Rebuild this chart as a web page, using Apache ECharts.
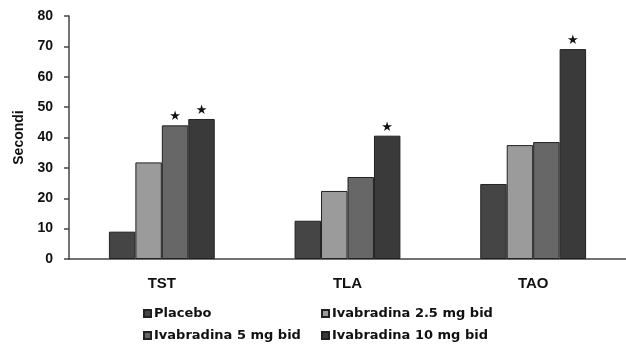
<!DOCTYPE html>
<html>
<head>
<meta charset="utf-8">
<script src="https://cdn.jsdelivr.net/npm/echarts@6/dist/echarts.min.js"></script>
<style>
  html, body { margin: 0; padding: 0; background: #fff; }
  #main { width: 626px; height: 346px; }
</style>
</head>
<body>
<div id="main"></div>
<script>
var categories = ['TST', 'TLA', 'TAO'];
var seriesNames = ['Placebo', 'Ivabradina 2.5 mg bid', 'Ivabradina 5 mg bid', 'Ivabradina 10 mg bid'];
var placebo = [9.0, 12.6, 24.7];
var ivab25 = [31.8, 22.4, 37.5];
var ivab5 = [44.0, 27.0, 38.5];
var ivab10 = [46.1, 40.6, 69.1];
// which bars carry the significance star
var starred = [
  [false, false, false],
  [false, false, false],
  [true, false, false],
  [true, true, true]
];
var colors = ['#454545', '#9b9b9b', '#676767', '#3a3a3a'];

var chart = echarts.init(document.getElementById('main'));

var allValues = [placebo, ivab25, ivab5, ivab10];

function makeSeries(idx) {
  return {
    name: seriesNames[idx],
    type: 'bar',
    barGap: '0%',
    barCategoryGap: '43%',
    itemStyle: { color: colors[idx], borderColor: '#222', borderWidth: 1 },
    emphasis: { disabled: true },
    data: allValues[idx].map(function (v, i) {
      return {
        value: v,
        label: {
          show: starred[idx][i],
          position: 'top',
          distance: 2,
          formatter: '★',
          fontSize: 13,
          color: '#111',
          fontFamily: 'DejaVu Sans'
        }
      };
    })
  };
}

function legendAt(name, left, top) {
  return {
    data: [name],
    left: left,
    top: top,
    icon: 'rect',
    itemWidth: 7,
    itemHeight: 7,
    itemGap: 0,
    padding: 0,
    selectedMode: false,
    textStyle: { fontSize: 13, fontWeight: 'bold', color: '#111', fontFamily: 'DejaVu Sans', padding: [0, 0, 0, -2] }
  };
}

var option = {
  animation: false,
  backgroundColor: '#fff',
  textStyle: { fontFamily: 'Liberation Sans' },
  grid: { left: 69, top: 16, width: 561, bottom: 87 },
  legend: [
    legendAt(seriesNames[0], 143, 307),
    legendAt(seriesNames[1], 321, 307),
    legendAt(seriesNames[2], 143, 329),
    legendAt(seriesNames[3], 321, 329)
  ],
  xAxis: {
    type: 'category',
    data: categories,
    axisLine: { lineStyle: { color: '#444', width: 1.5 } },
    axisTick: { show: false },
    axisLabel: { margin: 17, fontSize: 15, fontWeight: 'bold', color: '#111' }
  },
  yAxis: {
    type: 'value',
    min: 0,
    max: 80,
    interval: 10,
    name: 'Secondi',
    nameLocation: 'middle',
    nameGap: 40,
    nameRotate: 90,
    nameTextStyle: { fontSize: 14, fontWeight: 'bold', color: '#111' },
    axisLine: { show: true, lineStyle: { color: '#444', width: 1.5 } },
    axisTick: { show: true, length: 5, lineStyle: { color: '#444', width: 1.5 } },
    axisLabel: { margin: 16, fontSize: 14, fontWeight: 'bold', color: '#111' },
    splitLine: { show: false }
  },
  series: [makeSeries(0), makeSeries(1), makeSeries(2), makeSeries(3)]
};

chart.setOption(option);
</script>
</body>
</html>
